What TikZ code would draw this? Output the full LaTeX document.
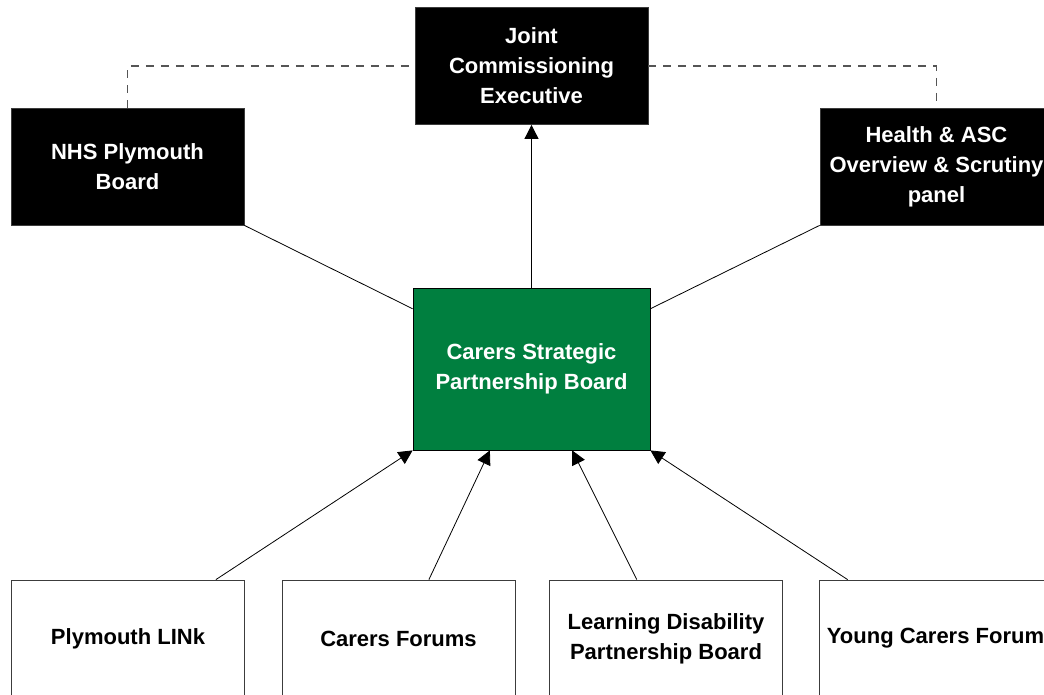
\documentclass[tikz,border=0pt]{standalone}
\usepackage{fontspec}
\setmainfont{Liberation Sans}
\usetikzlibrary{arrows.meta,calc}
\definecolor{boardgreen}{RGB}{0,127,63}
\definecolor{edgegray}{RGB}{60,60,60}
\definecolor{dashgray}{RGB}{85,85,85}
\begin{document}
\begin{tikzpicture}[x=1pt,y=-1pt,
  every node/.style={font=\fontsize{22}{30}\selectfont\bfseries, align=center, inner sep=0pt},
  darkbox/.style={rectangle, fill=black, draw=edgegray, line width=0.8pt, text=white, minimum width=233pt, minimum height=117pt},
  greenbox/.style={rectangle, fill=boardgreen, draw=black, line width=0.8pt, text=white, minimum width=237pt, minimum height=162pt},
  whitebox/.style={rectangle, fill=white, draw=edgegray, line width=0.8pt, text=black, minimum width=233pt, minimum height=117pt},
  link/.style={draw=black, line width=0.8pt},
  arr/.style={link, -{Triangle[length=14pt,width=14pt]}},
  dashlink/.style={draw=dashgray, line width=1.1pt, dash pattern=on 8pt off 7pt}
]
\useasboundingbox (0,0) rectangle (1044,695);
\node[darkbox] (jce) at (531.5,66) {Joint\\Commissioning\\Executive};
\node[darkbox] (nhs) at (127.5,166.5) {NHS Plymouth\\Board};
\node[darkbox] (hasc) at (936.5,166.5) {Health \& ASC\\Overview \& Scrutiny\\panel};
\node[greenbox] (csp) at (531.5,369) {Carers Strategic\\Partnership Board};
\node[whitebox] (link) at (128,638.5) {Plymouth LINk};
\node[whitebox] (forum) at (398.5,638.5) {Carers Forums};
\node[whitebox] (ldpb) at (666,638.5) {Learning Disability\\Partnership Board};
\node[whitebox] (ycf) at (935.5,638.5) {Young Carers Forum};

\draw[dashlink] (nhs.north) |- (jce.west);
\draw[dashlink] (jce.east) -| (hasc.north);

\draw[arr] (csp.north) -- (jce.south);
\draw[link] (nhs.south east) -- ($(csp.north west)!0.13!(csp.south west)$);
\draw[link] (hasc.south west) -- ($(csp.north east)!0.13!(csp.south east)$);

\draw[arr] ($(link.north west)!0.876!(link.north east)$) -- (csp.south west);
\draw[arr] ($(forum.north west)!0.63!(forum.north east)$) -- ($(csp.south west)!0.325!(csp.south east)$);
\draw[arr] ($(ldpb.north west)!0.375!(ldpb.north east)$) -- ($(csp.south west)!0.671!(csp.south east)$);
\draw[arr] ($(ycf.north west)!0.124!(ycf.north east)$) -- (csp.south east);
\end{tikzpicture}
\end{document}
